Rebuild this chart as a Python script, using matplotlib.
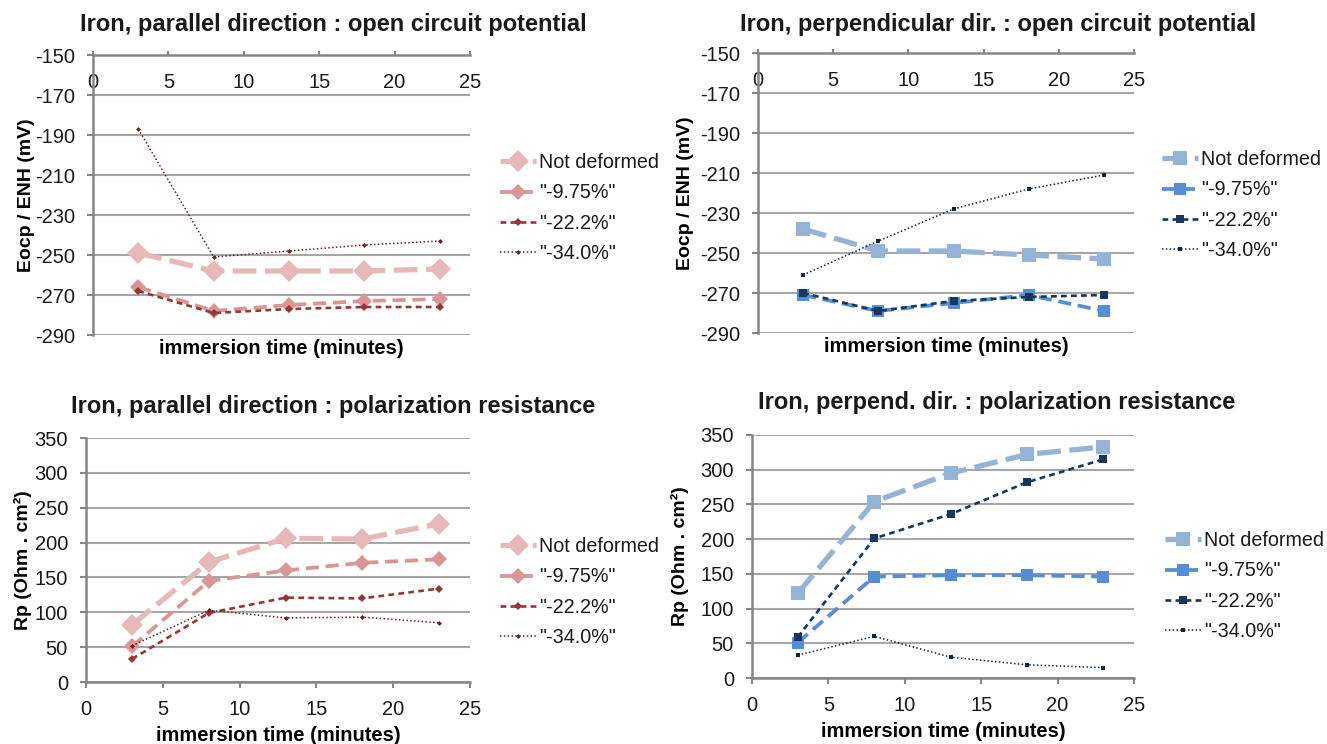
"""
Iron samples: open circuit potential and polarization resistance versus
immersion time, parallel and perpendicular directions, four deformation levels.
"""

import matplotlib
matplotlib.use("Agg")
import matplotlib.pyplot as plt

# Output
PLOT_FILE = "out.png"
FIG_W, FIG_H = 1327, 744

# Data
TIME = [3, 8, 13, 18, 23]
SERIES_LABELS = ["Not deformed", '"-9.75%"', '"-22.2%"', '"-34.0%"']

PAR_OCP_NOT_DEFORMED = [-249, -258, -258, -258, -257]
PAR_OCP_975 = [-266, -278, -275, -273, -272]
PAR_OCP_222 = [-268, -279, -277, -276, -276]
PAR_OCP_340 = [-187, -251, -248, -245, -243]

PERP_OCP_NOT_DEFORMED = [-238, -249, -249, -251, -253]
PERP_OCP_975 = [-271, -279, -275, -271, -279]
PERP_OCP_222 = [-270, -279, -274, -272, -271]
PERP_OCP_340 = [-261, -244, -228, -218, -211]

PAR_RP_NOT_DEFORMED = [82, 172, 206, 205, 227]
PAR_RP_975 = [51, 145, 160, 171, 176]
PAR_RP_222 = [33, 99, 121, 120, 134]
PAR_RP_340 = [52, 103, 92, 93, 85]

PERP_RP_NOT_DEFORMED = [122, 254, 295, 322, 333]
PERP_RP_975 = [51, 146, 148, 148, 146]
PERP_RP_222 = [59, 201, 236, 282, 315]
PERP_RP_340 = [33, 60, 30, 19, 15]

X_TICKS = [0, 5, 10, 15, 20, 25]
OCP_TICKS = [-290, -270, -250, -230, -210, -190, -170, -150]
RP_TICKS = [0, 50, 100, 150, 200, 250, 300, 350]

# Styles
PINK = ["#E6B9B8", "#D99694", "#953735", "#632523"]
BLUE = ["#95B3D7", "#558ED5", "#17375E", "#0F243E"]
LINE_WIDTHS = [3.8, 2.7, 1.9, 1.1]
DASHES = [(4.5, 1.6), (3.5, 1.8), (2.2, 1.6), (1.0, 1.5)]
DIAMOND_SIZES = [11, 8, 4.5, 2.5]
SQUARE_SIZES = [10.5, 8, 6, 3]

GRID_COLOR = "#A6A6A6"
AXIS_COLOR = "#868686"
TEXT_COLOR = "#1A1A1A"

plt.rcParams["font.family"] = ["Liberation Sans", "DejaVu Sans"]
plt.rcParams["text.color"] = TEXT_COLOR
plt.rcParams["axes.unicode_minus"] = False


def rect(left, top, right, bottom):
    """Pixel box -> figure fraction rectangle."""
    return [left / FIG_W, 1 - bottom / FIG_H, (right - left) / FIG_W, (bottom - top) / FIG_H]


def draw_panel(fig, box, series, colors, marker, sizes, ocp, title, title_xy,
               ylabel, ylabel_x, legend_xy):
    ax = fig.add_axes(rect(*box))
    for values, label, color, lw, dash, ms in zip(series, SERIES_LABELS, colors,
                                                  LINE_WIDTHS, DASHES, sizes):
        ax.plot(TIME, values, color=color, lw=lw, dashes=dash, marker=marker,
                markersize=ms, markeredgewidth=0, label=label)

    ax.set_xlim(0, 25)
    ax.set_xticks(X_TICKS)
    if ocp:
        ax.set_ylim(-290, -150)
        ax.set_yticks(OCP_TICKS)
    else:
        ax.set_ylim(0, 350)
        ax.set_yticks(RP_TICKS)

    ax.grid(axis="y", color=GRID_COLOR, lw=1.5)
    ax.set_axisbelow(True)
    for side in ax.spines:
        ax.spines[side].set_color(AXIS_COLOR)
        ax.spines[side].set_linewidth(1.8)
    ax.spines["right"].set_visible(False)
    if ocp:
        # horizontal axis crosses at 0 -> drawn at the top of the range
        ax.spines["bottom"].set_visible(False)
        ax.tick_params(axis="x", top=True, bottom=False, labeltop=True,
                       labelbottom=False, direction="out", length=3, pad=-30)
        ax.xaxis.set_label_position("bottom")
    else:
        ax.spines["top"].set_visible(False)
        ax.tick_params(axis="x", direction="out", length=4, pad=9)
    ax.tick_params(axis="both", labelsize=14.5, color=AXIS_COLOR, width=1.5,
                   labelcolor=TEXT_COLOR)
    ax.tick_params(axis="y", direction="out", length=4, pad=9)

    ax.set_xlabel("immersion time (minutes)", fontsize=14.5, fontweight="bold",
                  labelpad=3 if ocp else 5)
    ax.set_ylabel(ylabel, fontsize=14, fontweight="bold")
    ax.yaxis.set_label_coords(ylabel_x, 0.5)

    fig.text(title_xy[0] / FIG_W, 1 - title_xy[1] / FIG_H, title, fontsize=17,
             fontweight="bold", ha="center", va="center")

    ax.legend(loc="upper left",
              bbox_to_anchor=(legend_xy[0] / FIG_W, 1 - legend_xy[1] / FIG_H),
              bbox_transform=fig.transFigure, frameon=False, fontsize=14.2,
              borderpad=0, borderaxespad=0, handlelength=1.8,
              handletextpad=0.2, labelspacing=0.58)
    return ax


def execute():
    fig = plt.figure(figsize=(FIG_W / 100, FIG_H / 100), dpi=100)

    draw_panel(fig, (93, 55, 470, 335),
               [PAR_OCP_NOT_DEFORMED, PAR_OCP_975, PAR_OCP_222, PAR_OCP_340],
               PINK, "D", DIAMOND_SIZES, True,
               "Iron, parallel direction : open circuit potential", (333, 25),
               "Eocp / ENH (mV)", -0.155, (500, 153))

    draw_panel(fig, (758, 53, 1134, 333),
               [PERP_OCP_NOT_DEFORMED, PERP_OCP_975, PERP_OCP_222, PERP_OCP_340],
               BLUE, "s", SQUARE_SIZES, True,
               "Iron, perpendicular dir. : open circuit potential", (998, 25),
               "Eocp / ENH (mV)", -0.17, (1162, 150))

    draw_panel(fig, (86, 438, 470, 682),
               [PAR_RP_NOT_DEFORMED, PAR_RP_975, PAR_RP_222, PAR_RP_340],
               PINK, "D", DIAMOND_SIZES, False,
               "Iron, parallel direction : polarization resistance", (333, 407),
               "Rp (Ohm . cm²)", -0.14, (500, 537))

    draw_panel(fig, (752, 435, 1134, 678),
               [PERP_RP_NOT_DEFORMED, PERP_RP_975, PERP_RP_222, PERP_RP_340],
               BLUE, "s", SQUARE_SIZES, False,
               "Iron, perpend. dir. : polarization resistance", (997, 403),
               "Rp (Ohm . cm²)", -0.165, (1165, 531))

    fig.savefig(PLOT_FILE, dpi=100)


if __name__ == "__main__":
    execute()
